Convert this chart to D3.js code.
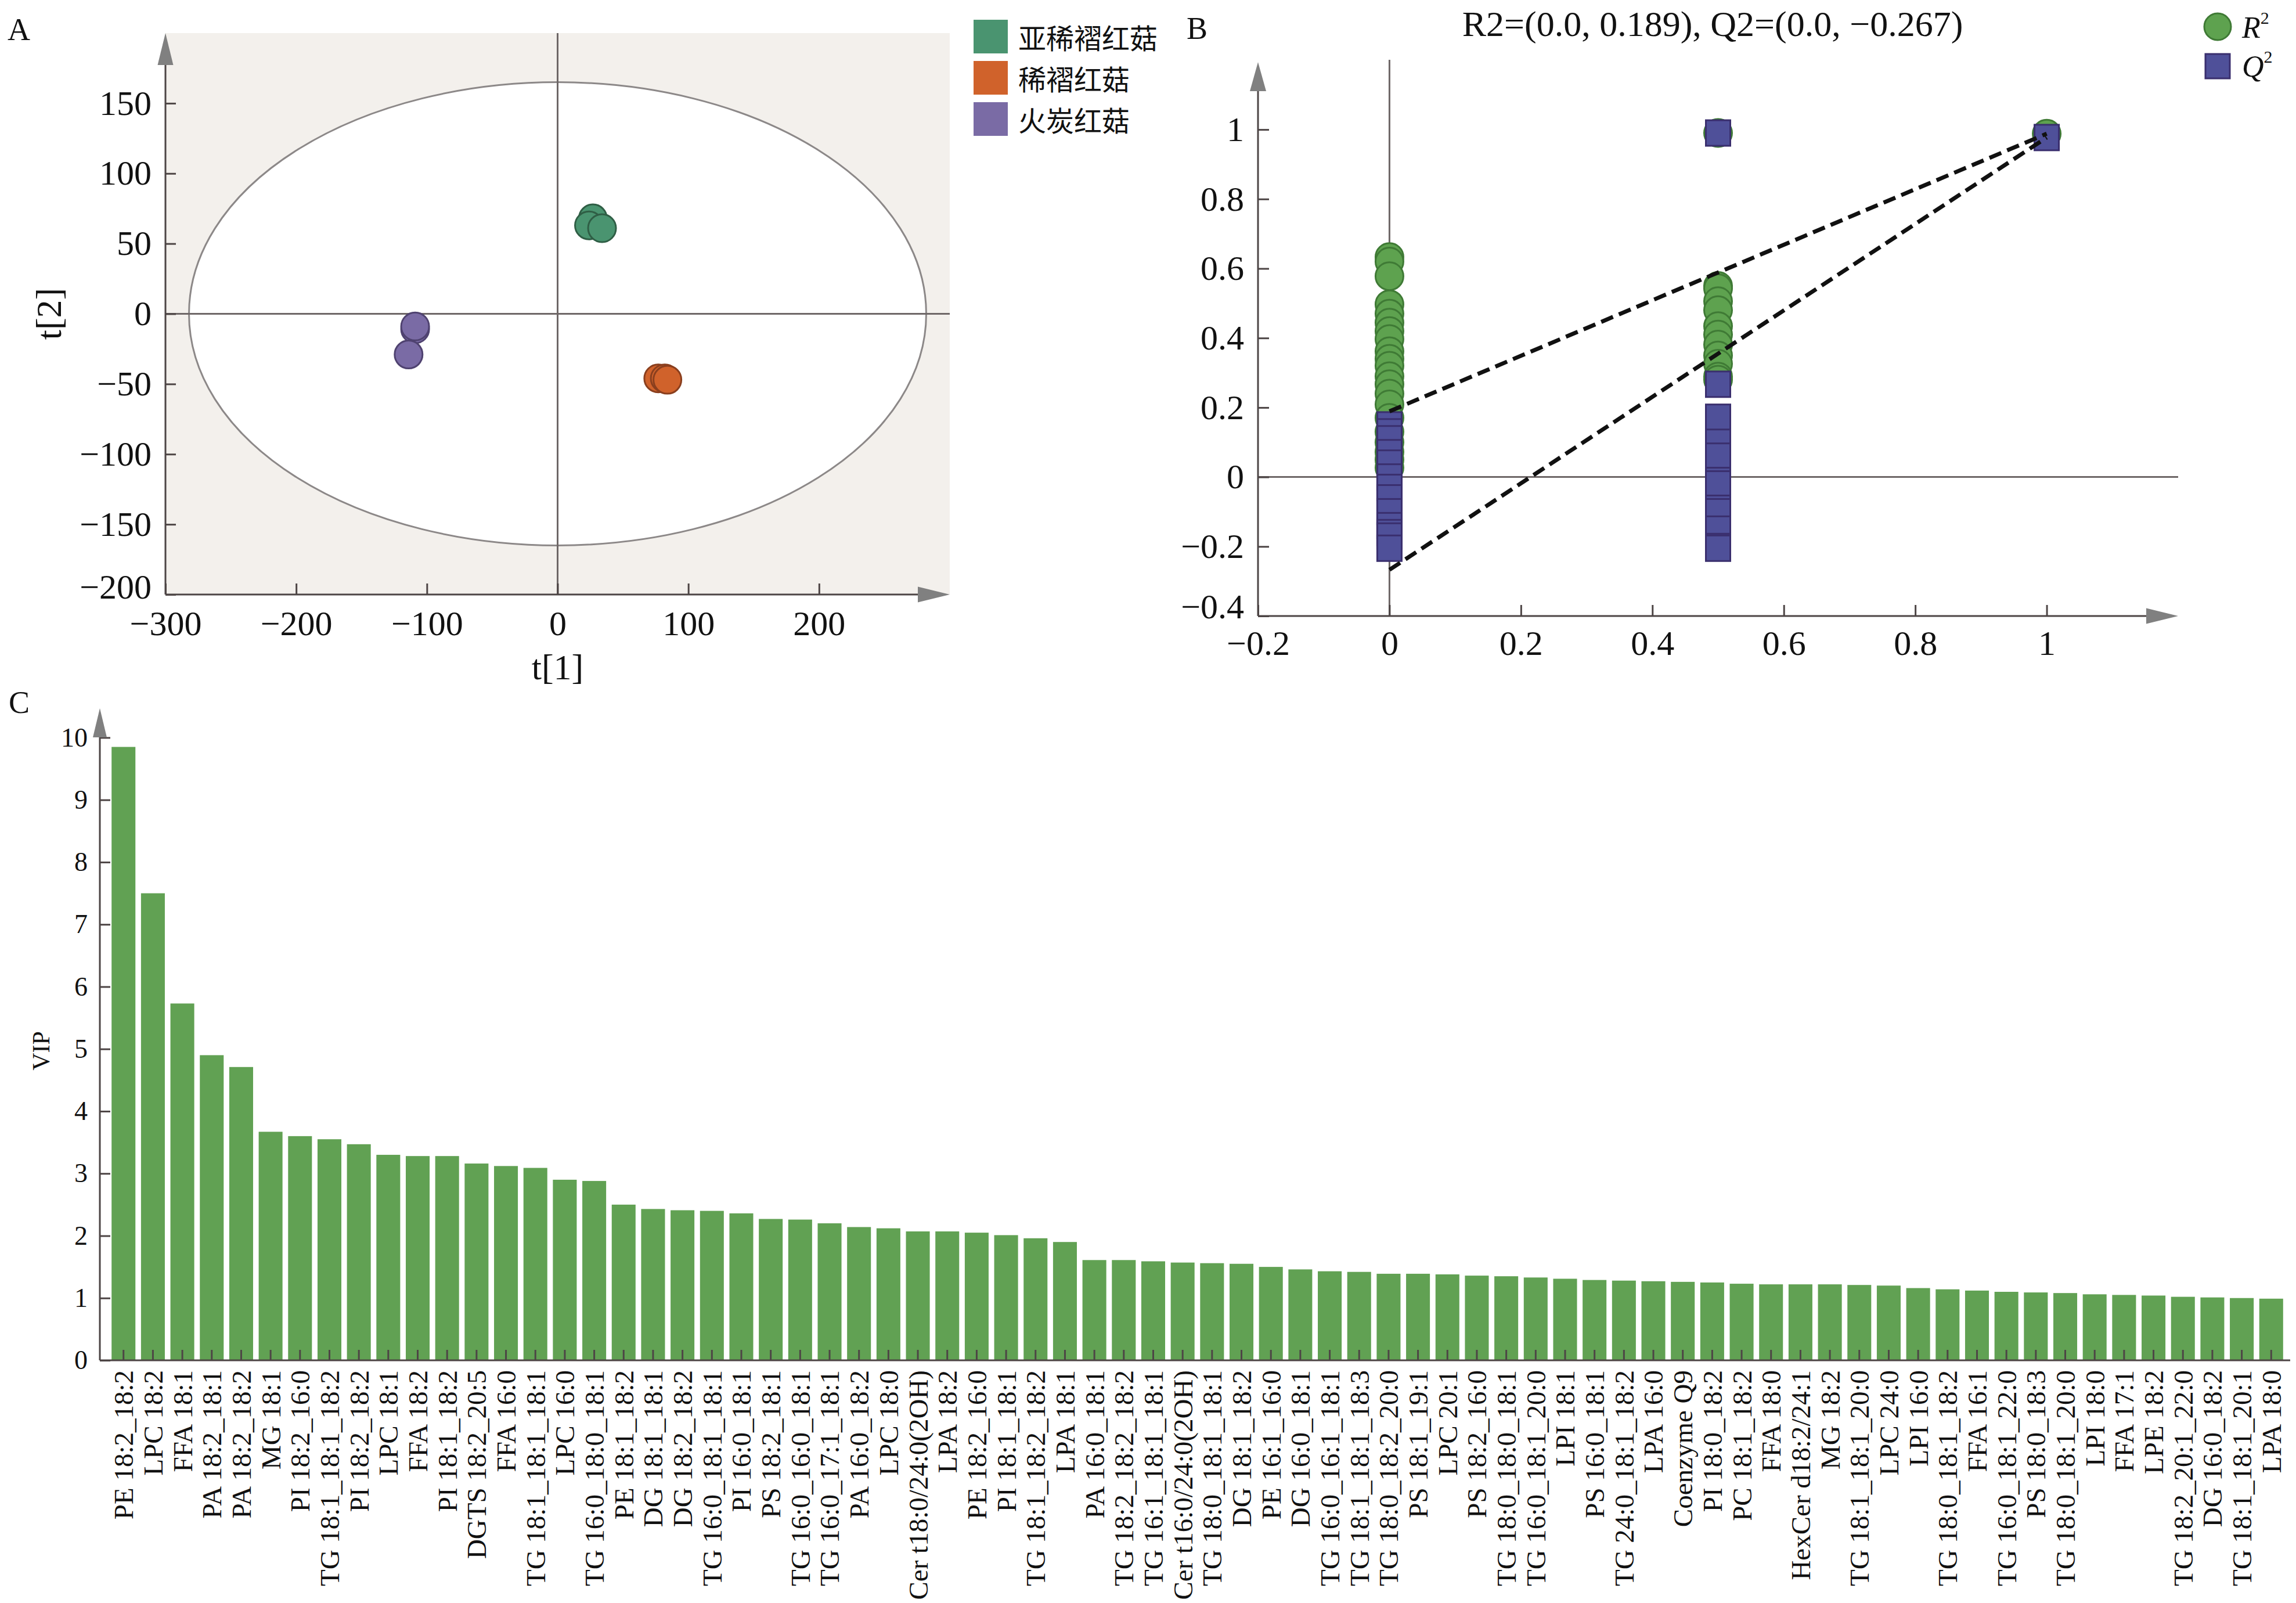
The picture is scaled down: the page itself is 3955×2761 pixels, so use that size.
<!DOCTYPE html>
<html>
<head>
<meta charset="utf-8">
<script src="https://cdn.jsdelivr.net/npm/d3@7"></script>
<style>
  html, body { margin: 0; padding: 0; background: #fff; }
  svg text { font-family: "Liberation Serif", "Times New Roman", serif; }
</style>
</head>
<body>
<div id="chart"></div>
<script>
// ---- panel A: PCA scores ----
const groupNames = ["亚稀褶红菇", "稀褶红菇", "火炭红菇"];
const scoreT1 = [27, 24, 34, 77, 82, 84, -109, -109, -114];
const scoreT2 = [68, 63, 61, -46, -46, -47, -11, -9, -29];
const scoreGroup = [0, 0, 0, 1, 1, 1, 2, 2, 2];
const pcaTicksX = [-300, -200, -100, 0, 100, 200];
const pcaTicksY = [-200, -150, -100, -50, 0, 50, 100, 150];
const ellipseRadii = [282, 165];

// ---- panel B: permutation test ----
const permTitle = "R2=(0.0, 0.189), Q2=(0.0, \u22120.267)";
const r2X = [0, 0, 0, 0, 0, 0, 0, 0, 0, 0, 0, 0, 0, 0, 0, 0, 0, 0, 0, 0, 0,
             0.5, 0.5, 0.5, 0.5, 0.5, 0.5, 0.5, 0.5, 0.5, 0.5, 0.5, 0.5, 1];
const r2Y = [0.633, 0.62, 0.578, 0.497, 0.47, 0.444, 0.42, 0.397, 0.362, 0.34, 0.32, 0.29, 0.267, 0.24, 0.209, 0.17, 0.13, 0.10, 0.072, 0.05, 0.027,
             0.99, 0.55, 0.543, 0.506, 0.48, 0.434, 0.41, 0.381, 0.35, 0.326, 0.289, 0.28, 0.988];
const q2X = [0, 0, 0, 0, 0, 0, 0, 0, 0, 0, 0, 0, 0,
             0.5, 0.5, 0.5, 0.5, 0.5, 0.5, 0.5, 0.5, 0.5, 0.5, 0.5, 0.5, 1];
const q2Y = [0.15, 0.13, 0.11, 0.07, 0.04, 0.0, -0.03, -0.06, -0.1, -0.14, -0.16, -0.17, -0.205,
             0.99, 0.267, 0.172, 0.10, 0.06, -0.01, -0.02, -0.09, -0.10, -0.15, -0.2, -0.205, 0.977];
const r2Line = [[0, 0.189], [1, 0.988]];
const q2Line = [[0, -0.267], [1, 0.977]];
const permTicksX = [-0.2, 0, 0.2, 0.4, 0.6, 0.8, 1];
const permTicksY = [-0.4, -0.2, 0, 0.2, 0.4, 0.6, 0.8, 1];

// ---- panel C: VIP ----
const lipids = ["PE 18:2_18:2", "LPC 18:2", "FFA 18:1", "PA 18:2_18:1", "PA 18:2_18:2", "MG 18:1",
  "PI 18:2_16:0", "TG 18:1_18:1_18:2", "PI 18:2_18:2", "LPC 18:1", "FFA 18:2", "PI 18:1_18:2",
  "DGTS 18:2_20:5", "FFA 16:0", "TG 18:1_18:1_18:1", "LPC 16:0", "TG 16:0_18:0_18:1", "PE 18:1_18:2",
  "DG 18:1_18:1", "DG 18:2_18:2", "TG 16:0_18:1_18:1", "PI 16:0_18:1", "PS 18:2_18:1", "TG 16:0_16:0_18:1",
  "TG 16:0_17:1_18:1", "PA 16:0_18:2", "LPC 18:0", "Cer t18:0/24:0(2OH)", "LPA 18:2", "PE 18:2_16:0",
  "PI 18:1_18:1", "TG 18:1_18:2_18:2", "LPA 18:1", "PA 16:0_18:1", "TG 18:2_18:2_18:2", "TG 16:1_18:1_18:1",
  "Cer t16:0/24:0(2OH)", "TG 18:0_18:1_18:1", "DG 18:1_18:2", "PE 16:1_16:0", "DG 16:0_18:1", "TG 16:0_16:1_18:1",
  "TG 18:1_18:1_18:3", "TG 18:0_18:2_20:0", "PS 18:1_19:1", "LPC 20:1", "PS 18:2_16:0", "TG 18:0_18:0_18:1",
  "TG 16:0_18:1_20:0", "LPI 18:1", "PS 16:0_18:1", "TG 24:0_18:1_18:2", "LPA 16:0", "Coenzyme Q9",
  "PI 18:0_18:2", "PC 18:1_18:2", "FFA 18:0", "HexCer d18:2/24:1", "MG 18:2", "TG 18:1_18:1_20:0",
  "LPC 24:0", "LPI 16:0", "TG 18:0_18:1_18:2", "FFA 16:1", "TG 16:0_18:1_22:0", "PS 18:0_18:3",
  "TG 18:0_18:1_20:0", "LPI 18:0", "FFA 17:1", "LPE 18:2", "TG 18:2_20:1_22:0", "DG 16:0_18:2",
  "TG 18:1_18:1_20:1", "LPA 18:0"];
const vipValues = [9.85, 7.5, 5.73, 4.9, 4.71, 3.67,
  3.6, 3.55, 3.47, 3.3, 3.28, 3.28,
  3.16, 3.12, 3.09, 2.9, 2.88, 2.5,
  2.43, 2.41, 2.4, 2.36, 2.27, 2.26,
  2.2, 2.14, 2.12, 2.07, 2.07, 2.05,
  2.01, 1.96, 1.9, 1.61, 1.61, 1.59,
  1.57, 1.56, 1.55, 1.5, 1.46, 1.43,
  1.42, 1.39, 1.39, 1.38, 1.36, 1.35,
  1.33, 1.31, 1.29, 1.28, 1.27, 1.26,
  1.25, 1.23, 1.22, 1.22, 1.22, 1.21,
  1.2, 1.16, 1.14, 1.12, 1.1, 1.09,
  1.08, 1.06, 1.05, 1.04, 1.02, 1.01,
  1.0, 0.99];
const vipTicks = [0, 1, 2, 3, 4, 5, 6, 7, 8, 9, 10];

const width = 3955, height = 2761;
const minus = v => v < 0 ? "\u2212" + Math.abs(v) : String(v);

const svg = d3.select("#chart").append("svg")
    .attr("width", width)
    .attr("height", height);

// arrow head pointing up or right, tip at (x, y)
function arrowHead(g, x, y, dir, len, wid) {
    const pts = dir === "up"
        ? [[x, y], [x - wid / 2, y + len], [x + wid / 2, y + len]]
        : [[x, y], [x - len, y - wid / 2], [x - len, y + wid / 2]];
    g.append("path")
        .attr("d", d3.line()(pts) + "Z")
        .style("fill", "#808080");
}

function styleAxis(g, size) {
    g.select(".domain").remove();
    g.selectAll(".tick line").style("stroke", "#4d4545").style("stroke-width", 3);
    g.selectAll(".tick text").style("font-size", size + "px").style("fill", "#111")
        .style("font-family", "'Liberation Serif', serif");
}

function panelLabel(txt, x, y) {
    svg.append("text").attr("x", x).attr("y", y).text(txt)
        .style("font-size", "54px").style("fill", "#111");
}

// ================= Panel A =================
const xA = d3.scaleLinear().domain([-300, 300]).range([285, 1636]);
const yA = d3.scaleLinear().domain([-200, 200]).range([1024, 57]);
const groupFill = ["#4a9470", "#d0622b", "#7a6ba5"];
const groupStroke = ["#2f5e45", "#8a3f1e", "#4f4270"];

const gA = svg.append("g");
gA.append("rect")
    .attr("x", xA(-300)).attr("y", yA(200))
    .attr("width", xA(300) - xA(-300)).attr("height", yA(-200) - yA(200))
    .style("fill", "#f3f0ec");
gA.append("ellipse")
    .attr("cx", xA(0)).attr("cy", yA(0))
    .attr("rx", xA(ellipseRadii[0]) - xA(0))
    .attr("ry", yA(0) - yA(ellipseRadii[1]))
    .style("fill", "#fff").style("stroke", "#8c8888").style("stroke-width", 3);
gA.append("line")
    .attr("x1", xA(-300)).attr("x2", xA(300)).attr("y1", yA(0)).attr("y2", yA(0))
    .style("stroke", "#6e6767").style("stroke-width", 3);
gA.append("line")
    .attr("x1", xA(0)).attr("x2", xA(0)).attr("y1", yA(200)).attr("y2", yA(-200))
    .style("stroke", "#6e6767").style("stroke-width", 3);

gA.append("g").attr("transform", `translate(${xA(-300)},0)`)
    .call(d3.axisLeft(yA).tickValues(pcaTicksY).tickFormat(minus).tickSizeInner(-18).tickSizeOuter(0).tickPadding(24))
    .call(g => styleAxis(g, 60))
    .call(g => g.selectAll(".tick text").filter(d => d === -200).attr("dy", "0.1em"));
gA.append("g").attr("transform", `translate(0,${yA(-200)})`)
    .call(d3.axisBottom(xA).tickValues(pcaTicksX).tickFormat(minus).tickSizeInner(-19).tickSizeOuter(0).tickPadding(27))
    .call(g => styleAxis(g, 60));

gA.append("line")
    .attr("x1", xA(-300)).attr("x2", xA(-300)).attr("y1", yA(-200)).attr("y2", yA(200) + 40)
    .style("stroke", "#4d4545").style("stroke-width", 3);
gA.append("line")
    .attr("x1", xA(-300)).attr("x2", xA(300) - 40).attr("y1", yA(-200)).attr("y2", yA(-200))
    .style("stroke", "#4d4545").style("stroke-width", 3);
arrowHead(gA, xA(-300), yA(200), "up", 55, 27);
arrowHead(gA, xA(300), yA(-200), "right", 55, 27);

gA.selectAll("circle.score")
    .data(scoreT1.map((t, i) => ({t1: t, t2: scoreT2[i], g: scoreGroup[i]})))
    .enter().append("circle")
    .attr("class", "score")
    .attr("cx", d => xA(d.t1))
    .attr("cy", d => yA(d.t2))
    .attr("r", 24)
    .style("fill", d => groupFill[d.g])
    .style("stroke", d => groupStroke[d.g])
    .style("stroke-width", 3);

gA.append("text").attr("x", xA(0)).attr("y", 1170).attr("text-anchor", "middle")
    .text("t[1]").style("font-size", "62px").style("fill", "#111");
gA.append("text").attr("transform", `translate(105,${yA(0)}) rotate(-90)`).attr("text-anchor", "middle")
    .text("t[2]").style("font-size", "62px").style("fill", "#111");

// legend A
groupNames.forEach((name, i) => {
    gA.append("rect").attr("x", 1677).attr("y", 34 + i * 71).attr("width", 59).attr("height", 58)
        .style("fill", groupFill[i]);
    gA.append("text").attr("x", 1754).attr("y", 63 + i * 71).attr("dominant-baseline", "central")
        .text(name)
        .style("font-family", "'Noto Sans CJK SC', sans-serif")
        .style("font-size", "48px").style("fill", "#111");
});
panelLabel("A", 13, 69);

// ================= Panel B =================
const xB = d3.scaleLinear().domain([-0.2, 1.2]).range([2167, 3752]);
const yB = d3.scaleLinear().domain([-0.4, 1.194]).range([1061, 107]);
const fmtB = v => minus(+v.toFixed(1));
const gB = svg.append("g");

gB.append("line")
    .attr("x1", xB(0)).attr("x2", xB(0)).attr("y1", 103).attr("y2", yB(-0.4))
    .style("stroke", "#6e6767").style("stroke-width", 3);
gB.append("line")
    .attr("x1", xB(-0.2)).attr("x2", xB(1.2)).attr("y1", yB(0)).attr("y2", yB(0))
    .style("stroke", "#6e6767").style("stroke-width", 3);

gB.append("g").attr("transform", `translate(${xB(-0.2)},0)`)
    .call(d3.axisLeft(yB).tickValues(permTicksY).tickFormat(fmtB).tickSizeInner(-19).tickSizeOuter(0).tickPadding(24))
    .call(g => styleAxis(g, 60))
    .call(g => g.selectAll(".tick text").filter(d => d === -0.4).attr("dy", "0.05em"));
gB.append("g").attr("transform", `translate(0,${yB(-0.4)})`)
    .call(d3.axisBottom(xB).tickValues(permTicksX).tickFormat(fmtB).tickSizeInner(-19).tickSizeOuter(0).tickPadding(24))
    .call(g => styleAxis(g, 60));
gB.append("line")
    .attr("x1", xB(-0.2)).attr("x2", xB(-0.2)).attr("y1", yB(-0.4)).attr("y2", yB(1.194) + 40)
    .style("stroke", "#4d4545").style("stroke-width", 3);
gB.append("line")
    .attr("x1", xB(-0.2)).attr("x2", xB(1.2) - 40).attr("y1", yB(-0.4)).attr("y2", yB(-0.4))
    .style("stroke", "#4d4545").style("stroke-width", 3);
arrowHead(gB, xB(-0.2), yB(1.194), "up", 50, 28);
arrowHead(gB, xB(1.2), yB(-0.4), "right", 55, 27);

gB.selectAll("circle.r2")
    .data(r2X.map((x, i) => ({x: x, y: r2Y[i]})))
    .enter().append("circle")
    .attr("class", "r2")
    .attr("cx", d => xB(d.x))
    .attr("cy", d => yB(d.y))
    .attr("r", 24)
    .style("fill", "#5ea24f")
    .style("stroke", "#3f7a35")
    .style("stroke-width", 3);

gB.selectAll("rect.q2")
    .data(q2X.map((x, i) => ({x: x, y: q2Y[i]})))
    .enter().append("rect")
    .attr("class", "q2")
    .attr("x", d => xB(d.x) - 21)
    .attr("y", d => yB(d.y) - 22)
    .attr("width", 42)
    .attr("height", 44)
    .style("fill", "#4f5099")
    .style("stroke", "#3a2f6e")
    .style("stroke-width", 3);

const dashLine = d3.line().x(d => xB(d[0])).y(d => yB(d[1]));
[r2Line, q2Line].forEach(l => {
    gB.append("path").attr("d", dashLine(l))
        .style("fill", "none").style("stroke", "#111")
        .style("stroke-width", 7).style("stroke-dasharray", "22,11");
});

gB.append("text").attr("x", 2950).attr("y", 62).attr("text-anchor", "middle")
    .text(permTitle).style("font-size", "62px").style("fill", "#111");

// legend B
gB.append("circle").attr("cx", 3820).attr("cy", 46).attr("r", 23)
    .style("fill", "#5ea24f").style("stroke", "#3f7a35").style("stroke-width", 3);
gB.append("rect").attr("x", 3799).attr("y", 93).attr("width", 42).attr("height", 42)
    .style("fill", "#4f5099").style("stroke", "#3a2f6e").style("stroke-width", 3);
[["R", 65], ["Q", 132]].forEach(([s, y]) => {
    const t = gB.append("text").attr("x", 3862).attr("y", y).style("font-size", "52px").style("fill", "#111");
    t.append("tspan").text(s).style("font-style", "italic");
    t.append("tspan").text("2").attr("dy", -24).style("font-size", "30px");
});
panelLabel("B", 2044, 67);

// ================= Panel C =================
const xC = d3.scaleBand().domain(lipids).range([177, 3948]).paddingInner(0.19).paddingOuter(0.3);
const yC = d3.scaleLinear().domain([0, 10.47]).range([2343, 1220]);
const gC = svg.append("g");

gC.selectAll("rect.bar")
    .data(lipids.map((n, i) => ({name: n, vip: vipValues[i]})))
    .enter().append("rect")
    .attr("class", "bar")
    .attr("x", d => xC(d.name))
    .attr("y", d => yC(d.vip))
    .attr("width", xC.bandwidth())
    .attr("height", d => yC(0) - yC(d.vip))
    .style("fill", "#61a153");

gC.append("g").attr("transform", `translate(172,0)`)
    .call(d3.axisLeft(yC).tickValues(vipTicks).tickSizeInner(-18).tickSizeOuter(0).tickPadding(21))
    .call(g => styleAxis(g, 46));

const xAxisC = gC.append("g").attr("transform", `translate(0,${yC(0)})`)
    .call(d3.axisBottom(xC).tickSizeInner(-18).tickSizeOuter(0).tickPadding(0))
    .call(g => styleAxis(g, 47));
xAxisC.selectAll(".tick text")
    .attr("transform", "rotate(-90)")
    .attr("text-anchor", "end")
    .attr("x", -17)
    .attr("y", 0)
    .attr("dy", "0.35em");

gC.append("line")
    .attr("x1", 172).attr("x2", 3945).attr("y1", yC(0)).attr("y2", yC(0))
    .style("stroke", "#4d4545").style("stroke-width", 3);
gC.append("line")
    .attr("x1", 172).attr("x2", 172).attr("y1", yC(0)).attr("y2", yC(10.47) + 40)
    .style("stroke", "#4d4545").style("stroke-width", 3);
arrowHead(gC, 172, yC(10.47), "up", 50, 24);

gC.append("text").attr("transform", `translate(85,1810) rotate(-90)`).attr("text-anchor", "middle")
    .text("VIP").style("font-size", "42px").style("fill", "#111");
panelLabel("C", 15, 1228);
</script>
</body>
</html>
